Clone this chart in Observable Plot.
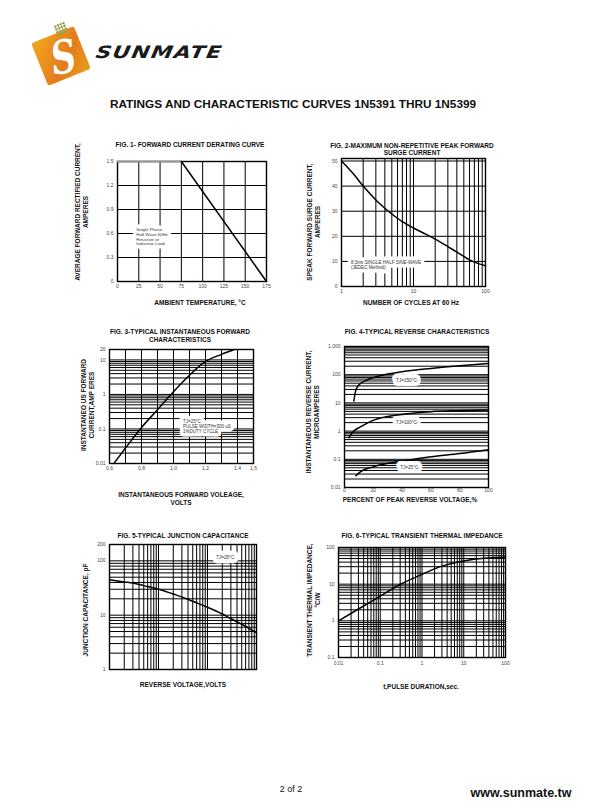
<!DOCTYPE html>
<html><head><meta charset="utf-8">
<script src="https://cdn.jsdelivr.net/npm/d3@7"></script>
<script src="https://cdn.jsdelivr.net/npm/@observablehq/plot@0.6"></script>
<style>
body{margin:0;background:#fff;}
#page{position:relative;width:610px;height:810px;background:#fff;font-family:"Liberation Sans",Arial,sans-serif;overflow:hidden;}
.t{position:absolute;white-space:nowrap;font-weight:bold;font-size:6.5px;color:#111;transform:translate(-50%,-50%);line-height:1;}
.r{transform:translate(-50%,-50%) rotate(-90deg);}
.chart{position:absolute;}
.chart svg{overflow:visible;}
</style></head><body><div id="page"></div>
<script>
// ---------- data ----------
// Fig 1
const fig1Temp = [0, 75, 175];
const fig1Current = [1.5, 1.5, 0];
const fig1XTicks = [0, 25, 50, 75, 100, 125, 150, 175];
const fig1YTicks = [0, 0.3, 0.6, 0.9, 1.2, 1.5];
const fig1Note = ["Single Phase", "Half Wave 60Hz", "Resistive or", "Inductive Load"];
// Fig 2
const fig2Cycles = [1, 1.5, 2, 3, 4, 5, 7, 10, 15, 20, 30, 40, 50, 60, 70, 100];
const fig2Amps = [50, 44.5, 40, 34.5, 31.2, 28.9, 25.8, 23.3, 20.8, 18.9, 15.9, 13.7, 12, 10.6, 9.7, 8.3];
const fig2XTicks = [1, 10, 100];
const fig2YTicks = [0, 10, 20, 30, 40, 50];
const fig2Note = ["8.3ms SINGLE HALF SINE-WAVE", "(JEDEC Method)"];
// Fig 3
const fig3Volts = [0.627, 0.7, 0.8, 0.9, 1.0, 1.1, 1.2, 1.3, 1.38];
const fig3Amps = [0.01, 0.028, 0.11, 0.36, 1.2, 3.6, 9, 14.5, 20];
const fig3XTicks = [0.6, 0.8, 1.0, 1.2, 1.4, 1.5];
const fig3XTickLabels = ["0.6", "0.8", "1.0", "1.2", "1.4", "1.5"];
const fig3XGrid = [0.7, 0.8, 0.9, 1.0, 1.1, 1.2, 1.3, 1.4];
const fig3YTicks = [0.01, 0.1, 1, 10, 20];
const fig3Note = ["TJ=25°C", "PULSE WIDTH=300 uS", "1%DUTY CYCLE"];
// Fig 4
const fig4Series = ["TJ=150°C", "TJ=100°C", "TJ=25°C"];
const fig4Pct150 = [6.5, 7.6, 9.9, 15.7, 20.3, 40, 60, 80, 100];
const fig4Cur150 = [11.6, 25, 43, 65, 80, 127, 167, 209, 251];
const fig4Pct100 = [3, 6.5, 11, 20.3, 40, 60, 80, 100];
const fig4Cur100 = [0.58, 1.0, 1.4, 2.46, 3.9, 4.9, 5.3, 5.6];
const fig4Pct25 = [7.9, 11, 20, 40, 60, 80, 100];
const fig4Cur25 = [0.026, 0.036, 0.054, 0.086, 0.123, 0.16, 0.22];
const fig4XTicks = [0, 20, 40, 60, 80, 100];
const fig4YTicks = [0.01, 0.1, 1, 10, 100, 1000];
// Fig 5
const fig5Volts = [0.1, 0.2, 0.3, 0.5, 1, 2, 3, 5, 10, 20, 30, 50, 100];
const fig5Cap = [45, 41, 39, 35, 30, 24.5, 21.7, 18, 14, 10.5, 8.6, 6.8, 4.7];
const fig5XTicks = [0.1, 1, 10, 100];
const fig5XTickLabels = ["0.1", "1.0", "10", "100"];
const fig5YTicks = [1, 10, 100, 200];
// Fig 6
const fig6Time = [0.01, 0.03, 0.1, 0.3, 1, 3, 10, 30, 100];
const fig6Imp = [1, 2.1, 4.7, 9.8, 18.5, 31, 43, 51, 54];
const fig6XTicks = [0.01, 0.1, 1, 10, 100];
const fig6YTicks = [0.1, 1, 10, 100];

// ---------- page ----------
const page = document.getElementById("page");
const FONT = '"Liberation Sans", Arial, sans-serif';
function txt(s, cx, cy, opts = {}) {
  const d = document.createElement("div");
  d.className = "t" + (opts.rot ? " r" : "");
  d.textContent = s;
  d.style.left = cx + "px"; d.style.top = cy + "px";
  if (opts.size) d.style.fontSize = opts.size + "px";
  if (opts.weight) d.style.fontWeight = opts.weight;
  if (opts.color) d.style.color = opts.color;
  page.appendChild(d);
  return d;
}
// log gridline positions (1..9 per decade) taken from a D3 log scale
const logGrid = (domain) => d3.scaleLog().domain(domain).ticks(10);

const mL = 28, mR = 10, mT = 8, mB = 16;
const grid = {stroke: "#000", strokeOpacity: 1, strokeWidth: 1};
function place(box, x, y, marks) {
  const svg = Plot.plot({
    width: box.R - box.L + mL + mR, height: box.B - box.T + mT + mB,
    marginLeft: mL, marginRight: mR, marginTop: mT, marginBottom: mB,
    x: {...x, label: null}, y: {...y, label: null},
    style: {fontFamily: FONT, fontSize: "5px", background: "transparent", color: "#000"},
    marks: [Plot.frame({stroke: "#000", strokeWidth: 1.4}), ...marks]
  });
  const w = document.createElement("div");
  w.className = "chart";
  w.style.left = (box.L - mL) + "px"; w.style.top = (box.T - mT) + "px";
  w.appendChild(svg); page.appendChild(w);
}
const ax = (o) => Plot.axisX({tickSize: 0, tickPadding: 3, fontSize: 5, color: "#444", label: null, ...o});
const ay = (o) => Plot.axisY({tickSize: 0, tickPadding: 4, fontSize: 5, color: "#444", label: null, ...o});
const curve = {stroke: "#000", strokeWidth: 1.5, curve: "monotone-x"};
// annotation: white halo pass, then text pass
function note(data, o) {
  const base = {fontSize: 4.4, lineHeight: 1.1, textAnchor: "start", ...o};
  return [
    Plot.text(data, {...base, fill: "white", stroke: "white", strokeWidth: base.halo ?? 7, strokeLinejoin: "round"}),
    Plot.text(data, {...base, fill: "#333"})
  ];
}

// Fig 1
const f1 = fig1Temp.map((t, i) => ({t, a: fig1Current[i]}));
place({L: 117, T: 161, R: 266, B: 281}, {domain: [0, 175]}, {domain: [0, 1.5]}, [
  Plot.gridX({ticks: fig1XTicks, ...grid}),
  Plot.gridY({ticks: fig1YTicks, ...grid}),
  ...note([fig1Note.join("\n")], {x: 22, y: 0.56}),
  Plot.line(f1.slice(0, 2), {x: "t", y: "a", stroke: "#999", strokeWidth: 2.2}),
  Plot.line(f1.slice(1), {x: "t", y: "a", stroke: "#000", strokeWidth: 1.5}),
  ax({ticks: fig1XTicks}),
  ay({ticks: fig1YTicks, tickFormat: d3.format("")})
]);
// Fig 2
const f2 = fig2Cycles.map((c, i) => ({c, a: fig2Amps[i]}));
place({L: 341, T: 158, R: 485, B: 286}, {type: "log", domain: [1, 100]}, {domain: [0, 51]}, [
  Plot.gridX({ticks: logGrid([1, 100]), ...grid}),
  Plot.gridY({ticks: fig2YTicks, ...grid}),
  ...note([fig2Note.join("\n")], {x: 1.35, y: 8.6, fontSize: 4.6, lineHeight: 1.2}),
  Plot.line(f2, {x: "c", y: "a", ...curve}),
  ax({ticks: fig2XTicks, tickFormat: d3.format("")}),
  ay({ticks: fig2YTicks})
]);
// Fig 3
const f3 = fig3Volts.map((v, i) => ({v, a: fig3Amps[i]}));
place({L: 109, T: 349, R: 253, B: 463}, {domain: [0.6, 1.5]}, {type: "log", domain: [0.01, 20]}, [
  Plot.gridX({ticks: fig3XGrid, ...grid}),
  Plot.gridY({ticks: logGrid([0.01, 20]), ...grid}),
  ...note([fig3Note.join("\n")], {x: 1.06, y: 0.12, fontSize: 4.5}),
  Plot.line(f3, {x: "v", y: "a", ...curve}),
  ax({ticks: fig3XTicks, tickFormat: (d, i) => fig3XTickLabels[i]}),
  ay({ticks: fig3YTicks, tickFormat: d3.format("")})
]);
// Fig 4
const f4 = [
  ...fig4Pct150.map((p, i) => ({s: fig4Series[0], p, c: fig4Cur150[i]})),
  ...fig4Pct100.map((p, i) => ({s: fig4Series[1], p, c: fig4Cur100[i]})),
  ...fig4Pct25.map((p, i) => ({s: fig4Series[2], p, c: fig4Cur25[i]}))
];
place({L: 344, T: 346, R: 488, B: 487}, {domain: [0, 100]}, {type: "log", domain: [0.01, 1000]}, [
  Plot.gridY({ticks: logGrid([0.01, 1000]), ...grid}),
  Plot.line(f4, {x: "p", y: "c", z: "s", ...curve}),
  ...note(fig4Series, {x: [43, 43, 45], y: [62, 2.1, 0.052], textAnchor: "middle", fontSize: 4.6, halo: 8}),
  ax({ticks: fig4XTicks, tickPadding: 1}),
  ay({ticks: fig4YTicks, tickFormat: d3.format(",")})
]);
// Fig 5
const f5 = fig5Volts.map((v, i) => ({v, c: fig5Cap[i]}));
place({L: 109, T: 544, R: 256, B: 669}, {type: "log", domain: [0.1, 100]}, {type: "log", domain: [1, 200]}, [
  Plot.gridX({ticks: logGrid([0.1, 100]), ...grid}),
  Plot.gridY({ticks: logGrid([1, 200]), ...grid}),
  ...note(["TJ=25°C"], {x: 23, y: 115, textAnchor: "middle", fontSize: 4.6, halo: 9}),
  Plot.line(f5, {x: "v", y: "c", ...curve}),
  ax({ticks: fig5XTicks, tickFormat: (d, i) => fig5XTickLabels[i], tickPadding: 4}),
  ay({ticks: fig5YTicks, tickFormat: d3.format("")})
]);
// Fig 6
const f6 = fig6Time.map((t, i) => ({t, z: fig6Imp[i]}));
place({L: 338, T: 547, R: 505, B: 657}, {type: "log", domain: [0.01, 100]}, {type: "log", domain: [0.1, 100]}, [
  Plot.gridX({ticks: logGrid([0.01, 100]), ...grid}),
  Plot.gridY({ticks: logGrid([0.1, 100]), ...grid}),
  Plot.line(f6, {x: "t", y: "z", ...curve}),
  ax({ticks: fig6XTicks, tickFormat: d3.format(""), tickPadding: 4}),
  ay({ticks: fig6YTicks, tickFormat: d3.format("")})
]);

// ---------- texts ----------
txt("RATINGS AND CHARACTERISTIC CURVES 1N5391 THRU 1N5399", 293, 105, {size: 11.8});
txt("FIG. 1- FORWARD CURRENT DERATING CURVE", 190, 145);
txt("AVERAGE FORWARD RECTIFIED CURRENT,", 78, 212, {rot: 1});
txt("AMPERES", 86, 212, {rot: 1});
txt("AMBIENT TEMPERATURE, °C", 200, 303);

txt("FIG. 2-MAXIMUM NON-REPETITIVE PEAK FORWARD", 412, 146);
txt("SURGE CURRENT", 412, 153);
txt("SPEAK  FORWARD SURGE CURRENT,", 310, 222, {rot: 1});
txt("AMPERES", 318, 222, {rot: 1});
txt("NUMBER OF CYCLES AT 60 Hz", 411, 303);

txt("FIG. 3-TYPICAL INSTANTANEOUS FORWARD", 180, 332);
txt("CHARACTERISTICS", 180, 340);
txt("INSTANTANEO US FORWARD", 84, 405, {rot: 1});
txt("CURRENT,AMP ERES", 92, 405, {rot: 1});
txt("INSTANTANEOUS FORWARD VOLEAGE,", 181, 495);
txt("VOLTS", 181, 503);

txt("FIG. 4-TYPICAL REVERSE CHARACTERISTICS", 417, 332);
txt("INSTANTANEOUS REVERSE CURRENT,", 309, 412, {rot: 1});
txt("MICROAMPERES", 317, 412, {rot: 1});
txt("PERCENT OF PEAK REVERSE VOLTAGE,%", 410, 500);

txt("FIG. 5-TYPICAL JUNCTION CAPACITANCE", 183, 536);
txt("JUNCTION CAPACITANCE, pF", 86, 610, {rot: 1});
txt("REVERSE VOLTAGE,VOLTS", 183, 685);

txt("FIG. 6-TYPICAL TRANSIENT THERMAL IMPEDANCE", 422, 536);
txt("TRANSIENT THERMAL IMPEDANCE,", 310, 600, {rot: 1});
txt("°C/W", 318, 600, {rot: 1});
txt("t,PULSE DURATION,sec.", 421, 687);

txt("2 of 2", 291, 789, {size: 9, weight: "normal"});
txt("www.sunmate.tw", 521, 793, {size: 12.5});

// ---------- logo ----------
const logo = document.createElement("div");
logo.innerHTML = `
<div style="position:absolute;left:38px;top:33px;width:46px;height:46px;border-radius:3px;background:linear-gradient(135deg,#f2a81d,#e37b1c 60%,#e8a020);transform:rotate(-22deg);"></div>
<div style="position:absolute;left:47px;top:30px;font:italic bold 46px 'DejaVu Serif',serif;color:#fff;transform:rotate(-10deg) scaleX(0.75);">S</div>
<div style="position:absolute;left:55px;top:23px;width:12px;height:12px;background:radial-gradient(circle,#9aa24a 1px,transparent 1.4px) 0 0/3px 3px;transform:rotate(-22deg);"></div>
<div style="position:absolute;left:96px;top:42px;font:italic 900 17px 'DejaVu Sans',sans-serif;letter-spacing:1px;color:#1a1a1a;transform:scaleX(1.28) skewX(-8deg);transform-origin:left;">SUNMATE</div>`;
page.appendChild(logo);
</script></body></html>
